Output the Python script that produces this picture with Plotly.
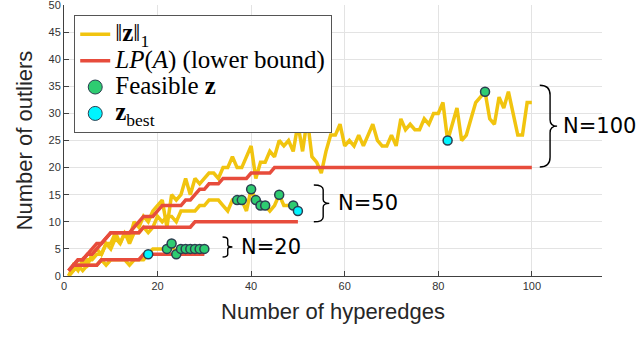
import plotly.graph_objects as go

# ── data ──────────────────────────────────────────────────────────────────────
x20 = list(range(1, 31))
x50 = list(range(1, 51))
x100 = list(range(1, 101))

l1_20 = [0, 1, 2, 1, 2, 2, 2, 3, 2, 3, 3, 3, 3, 2, 3, 3, 3, 4, 5, 5,
         5, 5, 6, 4, 5, 5, 5, 5, 5, 5]
lp_20 = [1, 2, 2, 2, 2, 2, 2, 3, 3, 3, 3, 3, 3, 3, 3, 3, 4, 4, 4, 4,
         4, 4, 4, 4, 4, 4, 4, 4, 4, 4]

l1_50 = [0, 1, 2, 2, 3, 3, 4, 4, 6, 5, 7, 6, 8, 6, 8, 8, 9, 8, 9, 11,
         10, 11, 11, 10, 12, 12, 12, 12, 13, 13, 14, 14, 14, 13, 12, 14, 14, 14, 12, 16,
         14, 13, 13, 12, 13, 15, 13, 13, 13, 12]
lp_50 = [1, 2, 3, 3, 4, 4, 5, 6, 7, 8, 8, 8, 8, 8, 8, 8, 9, 9, 9, 9,
         9, 9, 9, 9, 9, 9, 9, 10, 10, 10, 10, 10, 10, 10, 10, 10, 10, 10, 10, 10,
         10, 10, 10, 10, 10, 10, 10, 10, 10, 10]

l1_100 = [0, 2, 1, 3, 2, 4, 5, 4, 6, 6, 8, 6, 8, 7, 10, 9, 11, 10, 12, 13,
          14, 9, 15, 14, 15, 18, 15, 18, 17, 18, 19, 19, 18, 20, 20, 22, 20, 20, 22, 24,
          18, 21, 21, 23, 22, 25, 24, 25, 23, 28, 23, 29, 22, 21, 19, 23, 26, 26, 28, 24,
          25, 24, 26, 24, 26, 28, 25, 24, 24, 26, 24, 29, 27, 28, 27, 27, 29, 28, 30, 30,
          32, 25, 28, 31, 25, 26, 29, 32, 33, 34, 29, 28, 33, 31, 34, 30, 26, 26, 32, 32]
lp_100 = [1, 2, 3, 3, 4, 5, 6, 6, 7, 8, 8, 8, 8, 8, 9, 10, 11, 11, 11, 12,
          13, 13, 13, 13, 13, 14, 14, 15, 16, 16, 17, 17, 17, 18, 18, 18, 18, 18, 18, 19,
          19, 19, 19, 19] + [20] * 56

feas_x = [22, 23, 24, 25, 26, 27, 28, 29, 30,
          37, 38, 40, 41, 42, 43, 46, 49,
          90]
feas_y = [5, 6, 4, 5, 5, 5, 5, 5, 5,
          14, 14, 16, 14, 13, 13, 15, 13,
          34]
best_x = [18, 50, 82]
best_y = [4, 12, 25]

group_labels = ["N=20", "N=50", "N=100"]

# ── styling ───────────────────────────────────────────────────────────────────
YEL = "#f1c40f"
RED = "#e74c3c"
GRN = "#2ecc71"
CYN = "#00f5ff"
EDGE = "#2c3e50"
SERIF = "Liberation Serif"


def big(s):
    # legend rows are sized from the legend font; draw the text itself larger
    return f'<span style="font-size:25px">{s}</span>'


fig = go.Figure()

for i, (xs, ys) in enumerate([(x20, l1_20), (x50, l1_50), (x100, l1_100)]):
    fig.add_trace(go.Scatter(x=xs, y=ys, mode="lines", line=dict(color=YEL, width=3.5),
                             name=big("‖<b>z</b>‖<sub>1</sub>"), legendgroup="l1",
                             showlegend=(i == 0)))
for i, (xs, ys) in enumerate([(x20, lp_20), (x50, lp_50), (x100, lp_100)]):
    fig.add_trace(go.Scatter(x=xs, y=ys, mode="lines", line=dict(color=RED, width=3.5),
                             name=big("<i>LP</i>(<i>A</i>) (lower bound)"), legendgroup="lp",
                             showlegend=(i == 0)))

fig.add_trace(go.Scatter(x=feas_x, y=feas_y, mode="markers", showlegend=False,
                         marker=dict(color=GRN, size=9, line=dict(color=EDGE, width=1.5))))
fig.add_trace(go.Scatter(x=best_x, y=best_y, mode="markers", showlegend=False,
                         marker=dict(color=CYN, size=9, line=dict(color=EDGE, width=1.5))))
# legend-only entries (bigger symbols, as in the original)
fig.add_trace(go.Scatter(x=[None], y=[None], mode="markers", name=big("Feasible <b>z</b>"),
                         marker=dict(color=GRN, size=14, line=dict(color=EDGE, width=1))))
fig.add_trace(go.Scatter(x=[None], y=[None], mode="markers", name=big("<b>z</b><sub>best</sub>"),
                         marker=dict(color=CYN, size=14, line=dict(color=EDGE, width=1))))

# curly braces + group labels
# (left x, spine x, tip x, top y, bottom y, end curl, mid curl, label x)
braces = [
    (33.9, 35.0, 36.0, 7.2, 3.5, 0.5, 0.4, 37.4),
    (53.4, 55.4, 56.7, 16.8, 10.0, 0.9, 0.7, 58.2),
    (101.7, 103.9, 105.4, 35.2, 20.1, 1.8, 1.2, 106.2),
]


def brace_path(x0, xv, xt, yt, yb, re_, rm):
    ym = (yt + yb) / 2
    return (f"M {x0},{yt} Q {xv},{yt} {xv},{yt - re_} L {xv},{ym + rm} "
            f"Q {xv},{ym} {xt},{ym} Q {xv},{ym} {xv},{ym - rm} "
            f"L {xv},{yb + re_} Q {xv},{yb} {x0},{yb}")


for (x0, xv, xt, yt, yb, re_, rm, lx), lab in zip(braces, group_labels):
    fig.add_shape(type="path", xref="x", yref="y", path=brace_path(x0, xv, xt, yt, yb, re_, rm),
                  line=dict(color="black", width=1.4))
    fig.add_annotation(x=lx, y=(yt + yb) / 2, text=lab, showarrow=False, xanchor="left",
                       yanchor="middle", font=dict(family="DejaVu Sans", size=21, color="black"))

axis_common = dict(showline=True, linecolor="#404040", linewidth=1, ticks="inside", ticklen=5,
                   tickcolor="#404040", showgrid=True, gridcolor="#e3e3e3", gridwidth=1,
                   zeroline=False, tickfont=dict(family="Liberation Sans", size=11, color="#333"),
                   mirror=False, automargin=False, ticklabeloverflow="allow")

fig.update_xaxes(range=[0, 115], tickvals=[0, 20, 40, 60, 80, 100],
                 title=dict(text="Number of hyperedges", standoff=12,
                            font=dict(family="Liberation Sans", size=22, color="#262626")),
                 **axis_common)
fig.update_yaxes(range=[0, 50], dtick=5,
                 title=dict(text="Number of outliers", standoff=9,
                            font=dict(family="Liberation Sans", size=22, color="#262626")),
                 **axis_common)

fig.update_layout(
    width=638, height=356,
    margin=dict(l=64, r=36, t=5, b=80),
    plot_bgcolor="white", paper_bgcolor="white",
    legend=dict(x=0.019, y=0.963, xanchor="left", yanchor="top",
                bgcolor="white", bordercolor="#555", borderwidth=1,
                font=dict(family=SERIF, size=18, color="black"),
                tracegroupgap=0, itemwidth=30),
)

# drop the browser's default page margin so the figure sits at the window corner
fig.write_html("out.html", config={"displayModeBar": False},
               post_script="document.body.style.margin='0';")
